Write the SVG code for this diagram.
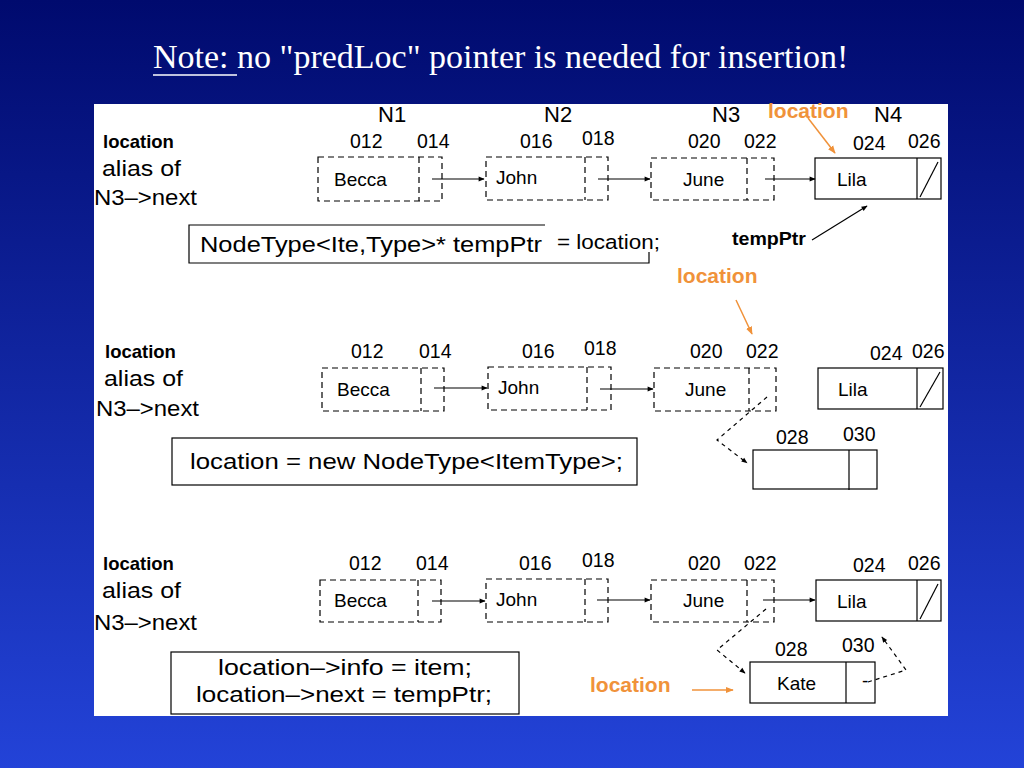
<svg xmlns="http://www.w3.org/2000/svg" width="1024" height="768" viewBox="0 0 1024 768">
<defs>
<linearGradient id="bg" x1="0" y1="0" x2="0" y2="1">
<stop offset="0" stop-color="#000a6e"/>
<stop offset="1" stop-color="#2343d8"/>
</linearGradient>
<marker id="ah" viewBox="0 0 10 10" refX="9" refY="5" markerWidth="7" markerHeight="6" orient="auto" markerUnits="userSpaceOnUse">
<path d="M0,1 L10,5 L0,9 z" fill="#000"/>
</marker>
<marker id="ao" viewBox="0 0 10 10" refX="9" refY="5" markerWidth="8" markerHeight="8" orient="auto" markerUnits="userSpaceOnUse">
<path d="M0,1 L10,5 L0,9 z" fill="#f0923a"/>
</marker>
<style>
.t{font-family:"Liberation Sans",Arial,sans-serif;fill:#000}
.num{font-size:19.5px}
.lbl{font-size:19px}
.big{font-size:22px}
.code{font-size:22px}
.b{font-weight:bold;font-size:18.5px}
.or{font-family:"Liberation Sans",Arial,sans-serif;font-weight:bold;font-size:21px;fill:#f0923a}
.dash{fill:none;stroke:#000;stroke-width:1.2;stroke-dasharray:6,4}
.solid{fill:#fff;stroke:#000;stroke-width:1.2}
.ln{fill:none;stroke:#000;stroke-width:1.2}
.arr{fill:none;stroke:#000;stroke-width:1.2;marker-end:url(#ah)}
.darr{fill:none;stroke:#000;stroke-width:1.2;stroke-dasharray:4,4;marker-end:url(#ah)}
.oarr{fill:none;stroke:#f0923a;stroke-width:1.5;marker-end:url(#ao)}
</style>
</defs>
<rect width="1024" height="768" fill="url(#bg)"/>
<text x="153" y="68" font-family="'Liberation Serif','Times New Roman',serif" font-size="34" fill="#fff">Note: no "predLoc" pointer is needed for insertion!</text>
<line x1="153" y1="75" x2="237" y2="75" stroke="#fff" stroke-width="1.5"/>
<rect x="94" y="104" width="854" height="612" fill="#fff"/>

<!-- Row 1 -->
<g id="row1-labels">
<text class="t b" x="103" y="148">location</text>
<text class="t big" x="102" y="176" textLength="79" lengthAdjust="spacingAndGlyphs">alias of</text>
<text class="t big" x="94" y="205" textLength="103" lengthAdjust="spacingAndGlyphs">N3–&gt;next</text>
<text class="t big" x="378" y="122">N1</text>
<text class="t big" x="544" y="122">N2</text>
<text class="t big" x="712" y="122">N3</text>
<text class="t big" x="874" y="122">N4</text>
<text class="or" x="768" y="118">location</text>
</g>
<g id="r1-n1">
<text class="t num" x="350" y="148">012</text><text class="t num" x="417" y="148">014</text>
<rect class="dash" x="318" y="157" width="124" height="44"/><line class="dash" x1="419" y1="157" x2="419" y2="201"/>
<text class="t lbl" x="334" y="186">Becca</text>
</g>
<g id="r1-n2">
<text class="t num" x="520" y="148">016</text><text class="t num" x="582" y="145">018</text>
<rect class="dash" x="486" y="157" width="122" height="43"/><line class="dash" x1="585" y1="157" x2="585" y2="200"/>
<text class="t lbl" x="496" y="184">John</text>
</g>
<g id="r1-n3">
<text class="t num" x="688" y="148">020</text><text class="t num" x="744" y="148">022</text>
<rect class="dash" x="651" y="158" width="123" height="42"/><line class="dash" x1="747" y1="158" x2="747" y2="200"/>
<text class="t lbl" x="683" y="186">June</text>
</g>
<g id="r1-n4">
<text class="t num" x="853" y="150">024</text><text class="t num" x="908" y="148">026</text>
<rect class="solid" x="815" y="158" width="126" height="41"/><line class="ln" x1="917" y1="158" x2="917" y2="199"/>
<line class="ln" x1="920" y1="197" x2="938" y2="162"/>
<text class="t lbl" x="837" y="186">Lila</text>
</g>
<g id="r1-code">
<path class="ln" d="M545,225 H189 V263 H649 V252"/>
<text class="t code" x="200" y="252" textLength="342" lengthAdjust="spacingAndGlyphs">NodeType&lt;Ite,Type&gt;* tempPtr</text>
<text class="t" x="557" y="249" font-size="20.5" textLength="103" lengthAdjust="spacingAndGlyphs">= location;</text>
<text class="t b" x="732" y="245" textLength="74" lengthAdjust="spacingAndGlyphs">tempPtr</text>
</g>

<!-- Row 2 -->
<g id="row2-labels">
<text class="t b" x="105" y="358">location</text>
<text class="t big" x="104" y="386" textLength="79" lengthAdjust="spacingAndGlyphs">alias of</text>
<text class="t big" x="96" y="416" textLength="103" lengthAdjust="spacingAndGlyphs">N3–&gt;next</text>
<text class="or" x="677" y="283">location</text>
</g>
<g id="r2-n1">
<text class="t num" x="351" y="358">012</text><text class="t num" x="419" y="358">014</text>
<rect class="dash" x="322" y="368" width="122" height="43"/><line class="dash" x1="421" y1="368" x2="421" y2="411"/>
<text class="t lbl" x="337" y="396">Becca</text>
</g>
<g id="r2-n2">
<text class="t num" x="522" y="358">016</text><text class="t num" x="584" y="355">018</text>
<rect class="dash" x="488" y="367" width="123" height="43"/><line class="dash" x1="587" y1="367" x2="587" y2="410"/>
<text class="t lbl" x="498" y="394">John</text>
</g>
<g id="r2-n3">
<text class="t num" x="690" y="358">020</text><text class="t num" x="746" y="358">022</text>
<rect class="dash" x="654" y="368" width="122" height="43"/><line class="dash" x1="749" y1="368" x2="749" y2="411"/>
<text class="t lbl" x="685" y="396">June</text>
</g>
<g id="r2-n4">
<text class="t num" x="870" y="360">024</text><text class="t num" x="912" y="358">026</text>
<rect class="solid" x="818" y="368" width="125" height="41"/><line class="ln" x1="917" y1="368" x2="917" y2="409"/>
<line class="ln" x1="920" y1="407" x2="940" y2="372"/>
<text class="t lbl" x="838" y="396">Lila</text>
</g>
<g id="r2-new">
<text class="t num" x="776" y="444">028</text><text class="t num" x="843" y="441">030</text>
<rect class="solid" x="753" y="450" width="124" height="39"/><line class="ln" x1="849" y1="450" x2="849" y2="490"/>
</g>
<g id="r2-code">
<rect class="ln" x="172" y="438" width="465" height="47"/>
<text class="t code" x="190" y="469" textLength="433" lengthAdjust="spacingAndGlyphs">location = new NodeType&lt;ItemType&gt;;</text>
</g>

<!-- Row 3 -->
<g id="row3-labels">
<text class="t b" x="103" y="570">location</text>
<text class="t big" x="102" y="598" textLength="79" lengthAdjust="spacingAndGlyphs">alias of</text>
<text class="t big" x="94" y="630" textLength="103" lengthAdjust="spacingAndGlyphs">N3–&gt;next</text>
<text class="or" x="590" y="692">location</text>
</g>
<g id="r3-n1">
<text class="t num" x="349" y="570">012</text><text class="t num" x="416" y="570">014</text>
<rect class="dash" x="320" y="580" width="121" height="42"/><line class="dash" x1="418" y1="580" x2="418" y2="622"/>
<text class="t lbl" x="334" y="607">Becca</text>
</g>
<g id="r3-n2">
<text class="t num" x="519" y="570">016</text><text class="t num" x="582" y="567">018</text>
<rect class="dash" x="486" y="579" width="122" height="43"/><line class="dash" x1="585" y1="579" x2="585" y2="622"/>
<text class="t lbl" x="496" y="606">John</text>
</g>
<g id="r3-n3">
<text class="t num" x="688" y="570">020</text><text class="t num" x="744" y="570">022</text>
<rect class="dash" x="651" y="580" width="123" height="42"/><line class="dash" x1="747" y1="580" x2="747" y2="622"/>
<text class="t lbl" x="683" y="607">June</text>
</g>
<g id="r3-n4">
<text class="t num" x="853" y="572">024</text><text class="t num" x="908" y="570">026</text>
<rect class="solid" x="816" y="580" width="125" height="41"/><line class="ln" x1="917" y1="580" x2="917" y2="621"/>
<line class="ln" x1="920" y1="619" x2="938" y2="584"/>
<text class="t lbl" x="837" y="608">Lila</text>
</g>
<g id="r3-kate">
<text class="t num" x="775" y="656">028</text><text class="t num" x="842" y="652">030</text>
<rect class="solid" x="750" y="662" width="125" height="41"/><line class="ln" x1="846" y1="662" x2="846" y2="703"/>
<text class="t lbl" x="777" y="690">Kate</text>
<text class="t lbl" x="862" y="687">-</text>
</g>
<g id="r3-code">
<rect class="ln" x="171" y="652" width="348" height="62"/>
<text class="t code" x="218" y="675" textLength="254" lengthAdjust="spacingAndGlyphs">location–&gt;info = item;</text>
<text class="t code" x="196" y="702" textLength="296" lengthAdjust="spacingAndGlyphs">location–&gt;next = tempPtr;</text>
</g>

<g id="connectors">
<line class="arr" x1="432" y1="179" x2="484" y2="179"/>
<line class="arr" x1="598" y1="179" x2="650" y2="179"/>
<line class="arr" x1="765" y1="179" x2="815" y2="179"/>
<line class="oarr" x1="808" y1="118" x2="835" y2="153"/>
<line class="arr" x1="812" y1="240" x2="867" y2="206"/>

<line class="arr" x1="434" y1="388" x2="487" y2="388"/>
<line class="arr" x1="600" y1="389" x2="653" y2="389"/>
<line class="oarr" x1="736" y1="300" x2="752" y2="334"/>
<path class="darr" d="M767,397 L717,440 L747,463"/>

<line class="arr" x1="432" y1="601" x2="485" y2="601"/>
<line class="arr" x1="597" y1="600" x2="650" y2="600"/>
<line class="arr" x1="763" y1="600" x2="815" y2="600"/>
<path class="darr" d="M766,609 L717,650 L745,673"/>
<path class="darr" d="M868,682 L906,670 L882,637"/>
<line class="oarr" x1="692" y1="690" x2="733" y2="690"/>
</g>
</svg>
